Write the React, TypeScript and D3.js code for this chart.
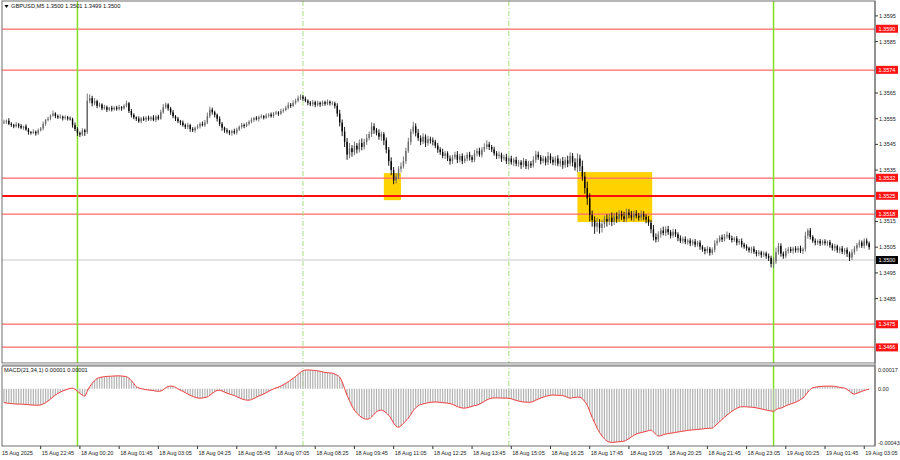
import React from 'react';
import * as d3 from 'd3';

// ---------- DATA ----------
const symbolTitle = 'GBPUSD,M5';
const lastOHLC = ['1.3500', '1.3501', '1.3499', '1.3500'];
const firstOpen = 1.35535;

const closes = [
  1.35538,1.35542,1.35530,1.35526,1.35520,1.35528,1.35522,1.35515,1.35520,1.35508,1.35498,1.35495,1.35499,1.35493,1.35505,1.35512,1.35530,1.35545,1.35550,1.35562,
  1.35570,1.35560,1.35555,1.35558,1.35552,1.35556,1.35550,1.35548,1.35525,1.35510,1.35495,1.35488,1.35505,1.35498,1.35620,1.35630,1.35610,1.35618,1.35600,1.35605,
  1.35590,1.35595,1.35585,1.35592,1.35586,1.35593,1.35588,1.35595,1.35590,1.35600,1.35610,1.35580,1.35565,1.35555,1.35550,1.35540,1.35552,1.35546,1.35554,1.35548,
  1.35555,1.35545,1.35558,1.35550,1.35575,1.35595,1.35605,1.35590,1.35575,1.35560,1.35550,1.35540,1.35535,1.35525,1.35518,1.35525,1.35510,1.35505,1.35515,1.35520,
  1.35530,1.35525,1.35535,1.35560,1.35585,1.35575,1.35565,1.35550,1.35530,1.35515,1.35505,1.35500,1.35495,1.35502,1.35496,1.35508,1.35518,1.35526,1.35522,1.35530,
  1.35538,1.35545,1.35552,1.35548,1.35556,1.35560,1.35554,1.35562,1.35566,1.35560,1.35570,1.35574,1.35570,1.35580,1.35584,1.35592,1.35604,1.35600,1.35612,1.35620,
  1.35630,1.35636,1.35628,1.35620,1.35612,1.35606,1.35614,1.35604,1.35612,1.35606,1.35614,1.35608,1.35616,1.35610,1.35610,1.35600,1.35570,1.35535,1.35500,1.35460,
  1.35410,1.35435,1.35420,1.35445,1.35430,1.35455,1.35440,1.35460,1.35475,1.35490,1.35520,1.35505,1.35495,1.35480,1.35490,1.35465,1.35430,1.35385,1.35350,1.35310,
  1.35325,1.35355,1.35365,1.35385,1.35425,1.35460,1.35500,1.35520,1.35495,1.35475,1.35460,1.35480,1.35455,1.35470,1.35465,1.35460,1.35445,1.35430,1.35420,1.35405,
  1.35415,1.35395,1.35385,1.35400,1.35410,1.35390,1.35405,1.35385,1.35395,1.35410,1.35400,1.35390,1.35415,1.35425,1.35410,1.35430,1.35440,1.35450,1.35440,1.35430,
  1.35415,1.35405,1.35410,1.35395,1.35400,1.35385,1.35395,1.35380,1.35390,1.35375,1.35380,1.35370,1.35385,1.35365,1.35375,1.35368,1.35390,1.35410,1.35400,1.35385,
  1.35395,1.35380,1.35405,1.35390,1.35380,1.35395,1.35375,1.35385,1.35370,1.35388,1.35375,1.35405,1.35380,1.35360,1.35395,1.35365,1.35325,1.35280,1.35240,1.35175,
  1.35155,1.35130,1.35145,1.35125,1.35140,1.35160,1.35150,1.35165,1.35148,1.35170,1.35160,1.35180,1.35170,1.35160,1.35185,1.35175,1.35165,1.35180,1.35172,1.35165,
  1.35178,1.35168,1.35158,1.35145,1.35120,1.35090,1.35080,1.35100,1.35115,1.35105,1.35120,1.35108,1.35095,1.35110,1.35100,1.35085,1.35075,1.35082,1.35070,1.35076,
  1.35065,1.35072,1.35060,1.35068,1.35052,1.35042,1.35035,1.35044,1.35028,1.35040,1.35065,1.35075,1.35088,1.35080,1.35092,1.35098,1.35085,1.35078,1.35084,1.35068,
  1.35074,1.35060,1.35052,1.35046,1.35038,1.35044,1.35032,1.35024,1.35030,1.35020,1.35026,1.35015,1.35008,1.34985,1.34995,1.35030,1.35055,1.35025,1.35015,1.35035,
  1.35042,1.35036,1.35045,1.35038,1.35046,1.35035,1.35042,1.35095,1.35115,1.35090,1.35075,1.35068,1.35074,1.35065,1.35072,1.35066,1.35070,1.35058,1.35046,1.35054,
  1.35038,1.35045,1.35032,1.35040,1.35025,1.35010,1.35030,1.35045,1.35058,1.35068,1.35055,1.35075,1.35065,1.35050,
];

const wickHiPips = [
  0.8,0.5,1.0,0.6,0.4,0.9,0.5,0.7,0.3,0.8,0.6,0.4,1.0,0.5,0.7,0.6,0.9,0.4,0.8,0.5,
  1.2,0.5,0.6,0.9,0.4,0.7,0.5,0.8,0.6,1.0,0.7,0.5,0.8,0.6,2.8,1.5,0.9,1.2,0.6,0.8,
  0.5,0.9,0.6,0.4,0.8,0.5,0.7,0.9,0.4,0.6,1.0,0.5,0.8,0.6,0.4,0.9,0.5,0.7,0.6,0.8,
  0.5,0.9,0.6,0.7,1.0,1.2,0.8,0.5,0.6,0.9,0.4,0.7,0.5,0.8,0.6,0.9,0.5,0.7,0.4,0.8,
  0.6,0.9,1.0,1.4,1.2,0.8,0.6,0.5,0.9,0.7,0.4,0.8,0.6,0.5,0.9,0.7,0.6,0.8,0.5,0.7,
  0.6,0.9,0.5,0.8,0.6,0.7,0.4,0.9,0.5,0.8,0.6,0.7,0.5,0.9,0.6,0.8,1.0,0.7,0.9,0.8,
  1.0,0.9,0.6,0.8,0.5,0.7,0.9,0.6,0.8,0.5,0.7,0.6,0.9,0.5,0.8,0.6,1.0,1.5,1.2,1.8,
  1.5,2.0,1.2,1.6,1.0,1.4,1.8,1.2,1.5,1.0,1.6,1.2,0.9,1.4,1.0,0.8,1.2,1.0,1.5,1.2,
  1.4,1.0,1.5,1.8,1.2,1.6,1.0,1.8,1.2,1.5,1.0,1.3,0.9,1.4,1.0,1.2,0.8,1.1,0.9,1.3,
  1.0,0.8,1.2,0.9,1.1,1.4,0.8,1.0,1.2,0.9,1.1,0.8,1.3,1.0,1.2,0.9,1.4,1.6,1.0,0.8,
  1.1,0.9,1.2,0.8,1.0,1.3,0.9,1.1,0.8,1.2,1.0,0.9,1.3,0.8,1.1,1.0,1.4,1.5,1.2,0.9,
  1.1,0.8,1.5,1.0,1.2,0.9,1.3,1.0,1.6,1.2,1.8,1.4,1.1,1.6,2.0,1.5,2.2,1.8,2.5,2.0,
  1.8,1.5,2.0,1.4,1.6,1.2,1.8,1.5,2.0,1.3,1.6,1.4,1.2,1.8,1.5,1.3,1.6,1.2,1.4,1.1,
  1.5,1.2,1.0,1.3,1.1,1.6,1.4,1.2,1.0,1.5,1.1,1.3,0.9,1.2,1.0,0.8,1.1,0.9,1.0,0.7,
  0.9,0.8,1.0,0.7,0.9,0.6,0.8,1.0,0.7,0.9,1.2,1.0,0.8,1.1,0.9,1.3,0.8,1.0,0.7,0.9,
  0.8,1.0,0.7,0.9,0.6,0.8,1.0,0.7,0.9,0.6,0.8,0.7,1.0,0.9,1.5,1.8,1.2,1.0,0.8,1.1,
  0.9,1.0,0.7,0.9,0.8,1.0,0.7,1.5,0.8,1.0,0.7,0.9,0.6,0.8,0.7,0.9,0.6,0.8,0.7,0.9,
  0.6,0.8,1.0,0.7,0.9,0.8,1.2,1.0,0.9,1.1,0.8,1.0,0.9,0.7,
];

const wickLoPips = [
  0.6,0.9,0.5,0.8,0.7,0.4,0.9,0.6,0.8,0.5,1.0,0.7,0.4,0.9,0.6,0.5,0.7,0.8,0.5,0.6,
  0.4,0.8,0.6,0.5,0.9,0.6,0.7,0.5,1.0,0.8,1.2,0.9,0.6,1.5,0.8,1.0,1.2,0.8,0.9,0.6,
  0.7,0.5,0.9,0.6,0.8,0.4,0.7,0.6,0.9,0.5,0.6,0.8,1.0,0.7,0.9,0.6,0.8,0.5,0.9,0.6,
  0.7,0.5,0.8,0.6,0.4,0.6,0.7,0.9,1.0,0.8,0.9,0.7,1.0,0.6,0.8,0.9,1.1,0.7,0.9,0.6,
  0.8,0.5,0.7,0.6,0.8,0.9,1.0,1.1,0.9,1.2,1.0,0.8,0.9,1.1,0.7,0.8,0.6,0.7,0.9,0.5,
  0.7,0.6,0.8,0.5,0.9,0.6,0.7,0.5,0.8,0.6,0.7,0.5,0.9,0.6,0.7,0.5,0.6,0.8,0.5,0.7,
  0.6,0.8,0.9,0.6,1.0,0.7,0.8,0.9,0.6,1.0,0.7,0.8,0.6,0.9,0.8,1.0,1.2,1.5,1.8,2.0,
  2.0,1.4,1.8,1.2,1.5,1.1,1.3,1.0,1.2,0.9,1.1,1.4,1.0,1.2,1.6,1.8,1.5,1.8,2.0,1.5,
  1.2,1.0,1.4,0.9,1.1,0.8,1.2,1.0,1.4,1.1,1.3,0.9,1.5,1.0,1.2,1.4,1.0,1.3,1.1,0.9,
  1.2,1.0,1.4,1.1,0.9,1.3,1.0,1.2,0.8,1.1,1.3,1.0,0.9,1.2,0.8,1.1,1.0,0.9,1.2,1.0,
  0.9,1.2,1.0,1.3,0.8,1.1,1.2,0.9,1.4,1.0,1.2,1.5,0.9,1.1,1.3,1.0,0.8,1.2,1.0,1.3,
  0.9,1.2,1.0,1.4,1.1,1.3,1.0,1.2,1.5,1.1,1.4,1.0,1.6,1.2,1.8,2.0,1.6,2.2,2.5,2.4,
  2.5,2.8,2.0,2.2,1.8,1.5,2.0,1.4,1.6,1.2,1.5,1.1,1.4,1.2,1.0,1.3,1.1,1.4,1.0,1.2,
  1.1,1.3,1.5,1.2,1.6,1.4,1.2,1.0,1.3,0.9,1.2,1.0,1.1,0.8,1.0,1.2,0.9,1.1,0.8,1.0,
  1.1,0.9,1.0,0.8,1.2,1.0,1.3,0.9,1.1,0.8,1.0,0.9,0.7,1.0,0.8,0.9,0.7,1.0,0.8,1.1,
  0.9,1.1,0.8,1.0,0.9,1.2,0.8,1.0,0.9,1.1,0.8,1.0,1.2,1.4,1.6,1.0,0.9,1.2,1.0,0.8,
  1.0,0.8,1.1,0.9,1.0,0.8,1.1,0.9,1.2,1.0,0.8,1.1,0.9,1.0,0.8,0.9,1.1,1.0,0.9,1.2,
  1.0,1.2,0.9,1.1,1.3,1.4,1.0,0.9,1.1,1.0,0.8,1.0,0.9,1.0,
];

// MACD main values in units of 0.00001
const macdE5 = [
  -10.5,-10.8,-11,-11.2,-11.4,-11.5,-11.6,-11.6,-11.7,-11.8,-12,-12.2,-12.3,-12.4,-12.4,-12.2,-11.5,-10.5,-9.2,-7.8,
  -6.2,-4.8,-3.6,-2.6,-1.8,-1.0,-0.4,0.2,0.4,-0.5,-2.0,-3.5,-4.8,-5.6,-2.0,1.5,4.0,6.0,7.6,8.3,
  8.7,9.0,9.2,9.3,9.4,9.5,9.6,9.6,9.5,9.3,9.0,7.8,6.0,3.8,1.5,0.6,0.0,-0.4,-0.8,-1.0,
  -1.2,-1.5,-1.8,-2.0,-1.8,-0.8,0.6,1.6,1.9,1.8,1.0,-0.2,-1.2,-2.0,-3.0,-4.0,-5.0,-5.8,-6.5,-7.0,
  -7.2,-7.0,-6.6,-6.2,-5.0,-3.5,-2.2,-1.4,-1.2,-1.8,-2.6,-3.4,-4.0,-4.6,-5.2,-6.0,-6.8,-7.6,-8.2,-8.6,
  -8.6,-8.2,-7.4,-6.4,-5.5,-4.8,-4.0,-3.0,-2.0,-1.0,-0.2,0.6,1.2,2.0,3.0,4.0,5.2,6.4,7.8,9.2,
  10.8,12.2,13.4,14.0,14.0,14.0,13.8,13.6,13.4,13.0,12.6,12.2,12.0,11.8,11.6,11.0,10.0,8.6,5.0,0.0,
  -4.9,-9.0,-13.0,-16.1,-18.4,-20.2,-21.6,-22.5,-22.9,-22.6,-21.2,-19.2,-17.4,-16.4,-16.1,-16.8,-18.2,-19.9,-22.5,-25.8,
  -28.2,-28.9,-27.8,-26.0,-24.0,-22.1,-19.4,-16.5,-14.4,-12.8,-12.0,-11.4,-11.0,-10.6,-10.3,-10.1,-10.0,-10.1,-10.3,-10.5,
  -10.7,-10.9,-11.2,-11.8,-12.6,-13.4,-14.1,-14.5,-14.6,-14.3,-13.8,-13.2,-12.7,-12.4,-11.6,-10.6,-9.5,-8.5,-7.6,-7.1,
  -6.9,-6.9,-7.0,-7.0,-7.1,-7.1,-7.2,-7.6,-8.2,-8.8,-9.3,-9.7,-10.0,-10.1,-10.2,-10.1,-9.5,-8.6,-7.8,-7.1,
  -6.4,-5.8,-5.3,-4.9,-4.8,-4.9,-5.0,-5.0,-5.2,-5.8,-6.6,-7.1,-6.8,-6.5,-6.4,-6.4,-7.5,-9.8,-12.4,-17.0,
  -21.5,-25.5,-29.6,-32.8,-35.5,-37.6,-39.2,-40.1,-40.3,-40.2,-40.0,-39.8,-39.6,-39.4,-38.6,-37.5,-36.2,-35.0,-34.0,-33.4,
  -33.0,-32.5,-32.0,-31.5,-31.1,-32.5,-34.2,-35.6,-35.2,-34.6,-34.0,-33.7,-33.4,-33.2,-32.8,-32.5,-32.2,-31.9,-31.6,-31.3,
  -31.1,-30.9,-30.8,-30.6,-30.4,-30.2,-30.0,-29.8,-29.7,-29.6,-28.2,-26.5,-24.8,-23.0,-21.4,-19.8,-18.4,-17.0,-15.8,-14.8,
  -13.9,-13.6,-13.5,-13.6,-13.8,-13.9,-14.1,-14.4,-14.8,-15.2,-15.6,-16.0,-16.4,-16.8,-16.9,-15.8,-14.8,-14.6,-13.8,-12.9,
  -12.1,-11.5,-10.9,-10.2,-9.3,-8.2,-7.1,-5.0,-2.5,-0.5,0.6,1.1,1.4,1.6,1.8,1.9,1.9,1.9,1.9,1.7,
  1.4,1.0,0.7,0.4,-0.6,-2.0,-3.4,-4.1,-3.5,-2.8,-2.0,-1.4,-0.8,-0.4,
];
const macdTitle = 'MACD(21,34,1) 0.00001 0.00001';
const macdAxisLabels = ['0.00017', '0.00', '-0.00043'];
const macdAxisValues = [0.00017, 0, -0.00043];

// price-scale labels that are visible (others sit under the level labels)
const priceTicks = [1.3595, 1.3585, 1.3565, 1.3555, 1.3545, 1.3535, 1.3515, 1.3505, 1.3495, 1.3485];
const levelPrices = [1.3590, 1.3574, 1.3532, 1.3525, 1.3518, 1.3475, 1.3466];
const keyLevel = 1.3525;
const bidPrice = 1.3500;

const daySeparatorIdx = [30, 314];
const sessionLineIdx = [122, 206];

const zoneStartIdx = [155, 234];
const zoneEndIdx = [162, 264.5];
const zoneTop = [1.35338, 1.35342];
const zoneBottom = [1.35233, 1.35148];

const firstDateLabel = '15 Aug 2025';
const timeTickIdx = [15, 31, 47, 63, 79, 95, 111, 127, 143, 159, 175, 191, 207, 223, 239, 255, 271, 287, 303, 319, 335, 351];
const timeTickLabels = [
  '15 Aug 22:45', '18 Aug 00:20', '18 Aug 01:45', '18 Aug 03:05', '18 Aug 04:25', '18 Aug 05:45',
  '18 Aug 07:05', '18 Aug 08:25', '18 Aug 09:45', '18 Aug 11:05', '18 Aug 12:25', '18 Aug 13:45',
  '18 Aug 15:05', '18 Aug 16:25', '18 Aug 17:45', '18 Aug 19:05', '18 Aug 20:25', '18 Aug 21:45',
  '18 Aug 23:05', '19 Aug 00:25', '19 Aug 01:45', '19 Aug 03:05',
];

// ---------- LAYOUT ----------
const W = 900, H = 460;
const PL = 2, PR = 875;
const MAIN_T = 1, MAIN_B = 363;
const SUB_T = 366, SUB_B = 446;
const BAR_X0 = 3.93, BAR_STEP = 2.451;
const FONT = "'Liberation Sans', Arial, sans-serif";
const FS = 5.5;

export default function App() {
  const n = closes.length;
  const x = d3.scaleLinear().domain([0, n - 1]).range([BAR_X0, BAR_X0 + (n - 1) * BAR_STEP]);
  const y = d3.scaleLinear().domain([1.3466, 1.3595]).range([347.4, 15.9]);
  const ym = d3.scaleLinear().domain([-0.00043, 0.00017]).range([SUB_B, SUB_T]);
  const fmt = d3.format('.4f');

  const bars = closes.map((c, i) => {
    const o = i === 0 ? firstOpen : closes[i - 1];
    const hi = Math.max(o, c) + (wickHiPips[i] ?? 0) * 1e-4;
    const lo = Math.min(o, c) - (wickLoPips[i] ?? 0) * 1e-4;
    return { i, o, c, hi, lo };
  });
  const macd = macdE5.map((v) => v * 1e-5);
  const macdLine = d3
    .line<number>()
    .x((_, i) => x(i))
    .y((v) => ym(v))
    .curve(d3.curveMonotoneX)(macd) || '';

  return (
    <div style={{ position: 'absolute', left: 0, top: 0 }}>
      <svg width={W} height={H} style={{ display: 'block', background: '#fff' }} fontFamily={FONT}>
        <rect x={0} y={0} width={W} height={H} fill="#fff" />
        <defs>
          <clipPath id="mainClip">
            <rect x={PL} y={MAIN_T} width={PR - PL} height={MAIN_B - MAIN_T} />
          </clipPath>
          <clipPath id="subClip">
            <rect x={PL} y={SUB_T} width={PR - PL} height={SUB_B - SUB_T} />
          </clipPath>
        </defs>

        {/* zones */}
        <g clipPath="url(#mainClip)">
          {zoneStartIdx.map((s, k) => (
            <rect key={'z' + k} x={x(s)} y={y(zoneTop[k])} width={x(zoneEndIdx[k]) - x(s)}
              height={y(zoneBottom[k]) - y(zoneTop[k])} fill="#ffd200" />
          ))}
          <line x1={PL} x2={PR} y1={y(bidPrice)} y2={y(bidPrice)} stroke="#c8c8c8" strokeWidth={1} />
          {levelPrices.map((p, k) => {
            const yy = Math.round(y(p));
            const key = Math.abs(p - keyLevel) < 1e-9;
            return (
              <rect key={'l' + k} x={PL} width={PR - PL} y={yy - (key ? 1 : 0.5)} height={key ? 2 : 1.3}
                fill={key ? '#ff1010' : '#ff6e6e'} />
            );
          })}
        </g>

        {/* vertical markers */}
        {sessionLineIdx.map((i, k) => (
          <line key={'s' + k} x1={x(i)} x2={x(i)} y1={MAIN_T} y2={SUB_B}
            stroke="#a6e07a" strokeWidth={1} strokeDasharray="5,2,1,2" />
        ))}
        {daySeparatorIdx.map((i, k) => (
          <line key={'d' + k} x1={x(i)} x2={x(i)} y1={MAIN_T} y2={SUB_B}
            stroke="#7ee020" strokeWidth={1.5} />
        ))}

        {/* bars */}
        <g clipPath="url(#mainClip)">
          {bars.map((b) => {
            const bull = b.c >= b.o;
            const top = y(Math.max(b.o, b.c));
            const bot = y(Math.min(b.o, b.c));
            const col = bull ? '#6a6a6a' : '#000';
            return (
              <g key={'b' + b.i}>
                <line x1={x(b.i)} x2={x(b.i)} y1={y(b.hi)} y2={y(b.lo)} stroke={col} strokeWidth={0.9} />
                <rect x={x(b.i) - 0.7} y={top} width={1.4} height={Math.max(0.6, bot - top)} fill={col} />
              </g>
            );
          })}
        </g>

        {/* MACD histogram */}
        <g clipPath="url(#subClip)">
          {macd.map((v, i) => (
            <line key={'h' + i} x1={x(i)} x2={x(i)} y1={ym(0)} y2={ym(v)} stroke="#b2b2b2" strokeWidth={1.2} />
          ))}
          <path d={macdLine} fill="none" stroke="#f23c3c" strokeWidth={1} />
        </g>

        {/* frames */}
        <rect x={PL} y={MAIN_T} width={PR - PL} height={MAIN_B - MAIN_T} fill="none" stroke="#6e6e6e" strokeWidth={1} />
        <rect x={PL} y={MAIN_B} width={PR - PL} height={SUB_T - MAIN_B} fill="#c8c8c8" />
        <rect x={PL} y={SUB_T} width={PR - PL} height={SUB_B - SUB_T} fill="none" stroke="#6e6e6e" strokeWidth={1} />
        <line x1={PR} x2={PR} y1={MAIN_T} y2={SUB_B} stroke="#6e6e6e" strokeWidth={1} />

        {/* price axis */}
        {priceTicks.map((p, k) => (
          <g key={'pt' + k}>
            <line x1={PR} x2={PR + 3} y1={y(p)} y2={y(p)} stroke="#333" strokeWidth={1} />
            <text x={PR + 4} y={y(p) + 2} fontSize={FS} fill="#222">{fmt(p)}</text>
          </g>
        ))}
        {levelPrices.map((p, k) => (
          <g key={'pl' + k}>
            <rect x={PR + 1} y={y(p) - 4} width={22} height={8} fill="#ff1414" />
            <text x={PR + 3.5} y={y(p) + 2} fontSize={FS} fill="#fff">{fmt(p)}</text>
          </g>
        ))}
        <rect x={PR + 1} y={y(bidPrice) - 4} width={22} height={8} fill="#000" />
        <text x={PR + 3.5} y={y(bidPrice) + 2} fontSize={FS} fill="#fff">{fmt(bidPrice)}</text>

        {/* MACD axis */}
        {macdAxisValues.map((v, k) => {
          const yy = k === 0 ? ym(v) + 4 : k === 2 ? ym(v) - 3 : ym(v);
          return (
            <text key={'ma' + k} x={PR + 3} y={yy + 2} fontSize={FS} fill="#222">{macdAxisLabels[k]}</text>
          );
        })}

        {/* time axis */}
        <text x={PL} y={455} fontSize={FS} fill="#222">{firstDateLabel}</text>
        {timeTickIdx.map((i, k) => (
          <g key={'tt' + k}>
            <line x1={x(i)} x2={x(i)} y1={SUB_B} y2={SUB_B + 3} stroke="#333" strokeWidth={1} />
            <text x={x(i) + 1} y={455} fontSize={FS} fill="#222">{timeTickLabels[k]}</text>
          </g>
        ))}

        {/* titles */}
        <path d="M4.5,5 L8.5,5 L6.5,8 Z" fill="#000" />
        <text x={11} y={8} fontSize={5.7} fill="#111">
          {symbolTitle + '  ' + lastOHLC.join(' ')}
        </text>
        <text x={4} y={372} fontSize={5.7} fill="#111">{macdTitle}</text>
      </svg>
    </div>
  );
}
